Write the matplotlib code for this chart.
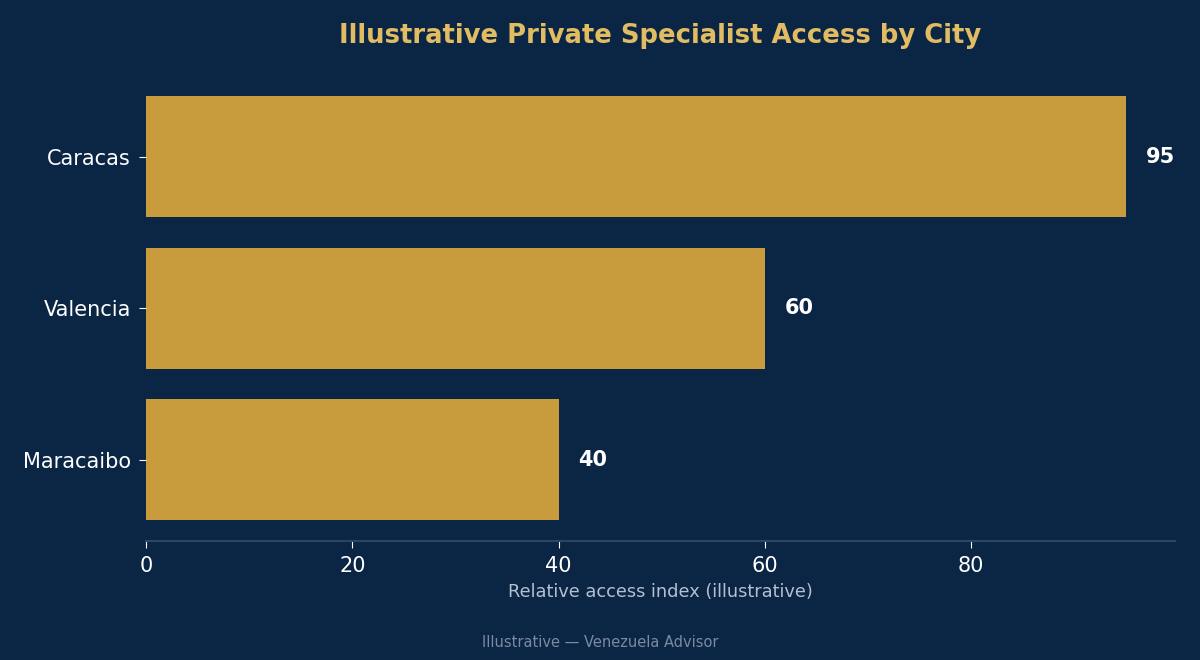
import matplotlib
matplotlib.use("Agg")
import matplotlib.pyplot as plt

cities = ["Caracas", "Valencia", "Maracaibo"]
values = [95, 60, 40]

BG = "#0b2545"
BAR = "#c89b3c"

fig = plt.figure(figsize=(12, 6.6), dpi=100, facecolor=BG)
ax = fig.add_axes([0.1217, 0.180, 0.8575, 0.706], facecolor=BG)

ypos = list(range(len(cities)))[::-1]
ax.barh(ypos, values, height=0.8, color=BAR)
ax.set_yticks(ypos)
ax.set_yticklabels(cities)
ax.set_xlim(0, max(values) * 1.05)
ax.set_ylim(-0.54, 2.54)
ax.set_xticks([0, 20, 40, 60, 80])

for y, v in zip(ypos, values):
    ax.text(v + 1.9, y, f"{v}", va="center", ha="left", color="white",
            fontsize=15, fontweight="bold")

for s in ["top", "right", "left"]:
    ax.spines[s].set_visible(False)
ax.spines["bottom"].set_color("#2c4566")
ax.spines["bottom"].set_linewidth(1.5)
ax.tick_params(axis="both", colors="white", labelsize=15, length=5)
ax.tick_params(axis="x", pad=6)
ax.tick_params(axis="y", pad=6)

ax.set_xlabel("Relative access index (illustrative)", color="#b4c0d0",
              fontsize=12.8, labelpad=5)
ax.set_title("Illustrative Private Specialist Access by City", color="#e2bc62",
             fontsize=18.6, fontweight="bold", pad=23)
fig.text(0.5, 0.027, "Illustrative — Venezuela Advisor", ha="center",
         va="center", color="#7a8aa3", fontsize=10.5)

fig.savefig("out.png", dpi=100, facecolor=BG)
